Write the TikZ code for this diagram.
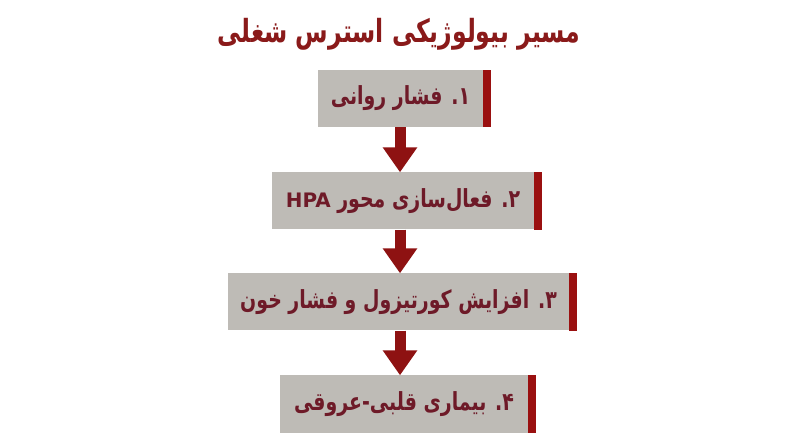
\documentclass[tikz,border=0pt]{standalone}
\usepackage{fontspec}
\usetikzlibrary{arrows.meta}
\TeXXeTstate=1
\newfontfamily\fa[Script=Arabic,FakeStretch=0.76]{DejaVu Sans}
\newfontfamily\fatitle[Script=Arabic,FakeStretch=0.74]{DejaVu Sans}
\newfontfamily\latin{DejaVu Sans}
\definecolor{boxgray}{HTML}{BEBBB6}
\definecolor{barred}{HTML}{9A1010}
\definecolor{arrred}{HTML}{8E1212}
\definecolor{txtred}{HTML}{6E1A28}
\definecolor{titred}{HTML}{8A1A1A}
\tikzset{
  stepbox/.style={fill=boxgray, inner sep=0pt, minimum height=57bp, text=txtred,
    font=\fa\bfseries\fontsize{25}{30}\selectfont},
  flowarrow/.style={draw=arrred, line width=11bp, -{Triangle[width=33bp,length=25bp]}},
}
\newcommand{\sidebar}[1]{\fill[barred] (#1.north east) rectangle ([xshift=8bp]#1.south east);}
\begin{document}
\begin{tikzpicture}[x=1bp,y=-1bp]
\useasboundingbox (0,0) rectangle (800,447);
\fill[white] (0,0) rectangle (800,447);
\coordinate (ax) at (400,0);
\node[text=titred, font=\fatitle\bfseries\fontsize{32}{36}\selectfont] (title) at (399,34) {\beginR مسیر بیولوژیکی استرس شغلی\endR};
\node[stepbox, minimum width=165bp] (b1) at (400.5,98.5) {\beginR ۱. فشار روانی\endR};
\node[stepbox, minimum width=262bp] (b2) at (403,201) {\beginR ۲. فعال‌سازی محور {\latin\bfseries\fontsize{20}{24}\selectfont\beginL HPA\endL}\endR};
\node[stepbox, minimum width=341bp] (b3) at (398.5,302) {\beginR ۳. افزایش کورتیزول و فشار خون\endR};
\node[stepbox, minimum width=248bp] (b4) at (404,404) {\beginR ۴. بیماری قلبی-عروقی\endR};
\sidebar{b1}\sidebar{b2}\sidebar{b3}\sidebar{b4}
\draw[flowarrow] (b1.south -| ax) -- (b2.north -| ax);
\draw[flowarrow] (b2.south -| ax) -- (b3.north -| ax);
\draw[flowarrow] (b3.south -| ax) -- (b4.north -| ax);
\end{tikzpicture}
\end{document}
